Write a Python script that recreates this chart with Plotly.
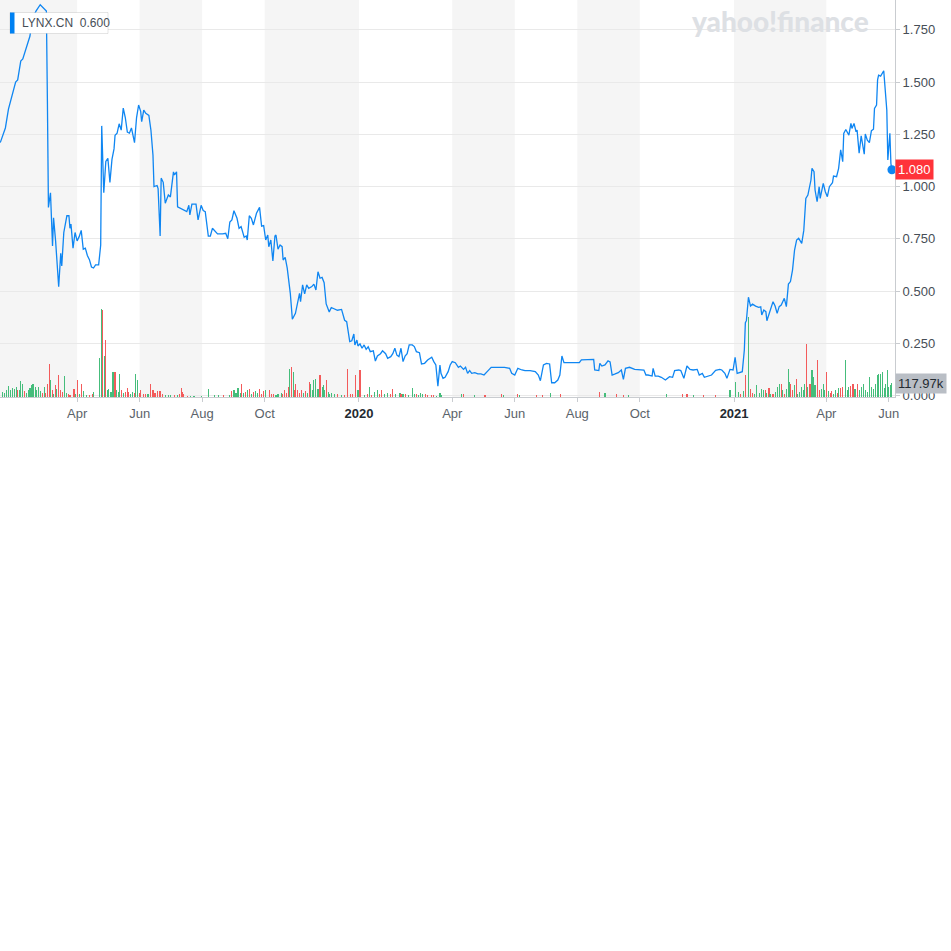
import plotly.graph_objects as go

# ---------------- data ----------------
price_dates = [
    "2019-01-16", "2019-01-19", "2019-01-21", "2019-01-24", "2019-01-28", "2019-01-31", "2019-02-02", "2019-02-05",
    "2019-02-07", "2019-02-11", "2019-02-14", "2019-02-16", "2019-02-20", "2019-02-24", "2019-02-28", "2019-03-02",
    "2019-03-03", "2019-03-04", "2019-03-06", "2019-03-08", "2019-03-09", "2019-03-11", "2019-03-14", "2019-03-16",
    "2019-03-17", "2019-03-19", "2019-03-22", "2019-03-24", "2019-03-25", "2019-03-26", "2019-03-28", "2019-03-30",
    "2019-04-01", "2019-04-03", "2019-04-05", "2019-04-07", "2019-04-09", "2019-04-11", "2019-04-13", "2019-04-15",
    "2019-04-17", "2019-04-19", "2019-04-22", "2019-04-24", "2019-04-25", "2019-04-27", "2019-04-29", "2019-05-01",
    "2019-05-03", "2019-05-05", "2019-05-07", "2019-05-08", "2019-05-10", "2019-05-12", "2019-05-14", "2019-05-16",
    "2019-05-18", "2019-05-20", "2019-05-22", "2019-05-24", "2019-05-27", "2019-05-29", "2019-05-31", "2019-06-02",
    "2019-06-03", "2019-06-05", "2019-06-07", "2019-06-10", "2019-06-12", "2019-06-14", "2019-06-15", "2019-06-18",
    "2019-06-19", "2019-06-21", "2019-06-22", "2019-06-24", "2019-06-26", "2019-06-29", "2019-07-01", "2019-07-04",
    "2019-07-05", "2019-07-07", "2019-07-08", "2019-07-11", "2019-07-14", "2019-07-17", "2019-07-19", "2019-07-20",
    "2019-07-22", "2019-07-26", "2019-07-28", "2019-07-31", "2019-08-02", "2019-08-04", "2019-08-07", "2019-08-09",
    "2019-08-11", "2019-08-13", "2019-08-16", "2019-08-21", "2019-08-24", "2019-08-26", "2019-08-28", "2019-08-30",
    "2019-09-01", "2019-09-04", "2019-09-06", "2019-09-08", "2019-09-11", "2019-09-13", "2019-09-14", "2019-09-16",
    "2019-09-18", "2019-09-20", "2019-09-23", "2019-09-26", "2019-09-28", "2019-09-30", "2019-10-02", "2019-10-04",
    "2019-10-05", "2019-10-07", "2019-10-09", "2019-10-11", "2019-10-12", "2019-10-14", "2019-10-16", "2019-10-18",
    "2019-10-19", "2019-10-21", "2019-10-23", "2019-10-26", "2019-10-28", "2019-10-31", "2019-11-01", "2019-11-04",
    "2019-11-05", "2019-11-07", "2019-11-09", "2019-11-11", "2019-11-13", "2019-11-16", "2019-11-18", "2019-11-20",
    "2019-11-22", "2019-11-24", "2019-11-26", "2019-11-28", "2019-11-30", "2019-12-03", "2019-12-05", "2019-12-08",
    "2019-12-11", "2019-12-15", "2019-12-18", "2019-12-20", "2019-12-23", "2019-12-25", "2019-12-27", "2019-12-28",
    "2019-12-30", "2019-12-31",
    "2020-01-02", "2020-01-04", "2020-01-06", "2020-01-08", "2020-01-10", "2020-01-12", "2020-01-15", "2020-01-17",
    "2020-01-19", "2020-01-22", "2020-01-24", "2020-01-27", "2020-01-29", "2020-02-01", "2020-02-03", "2020-02-05",
    "2020-02-07", "2020-02-09", "2020-02-11", "2020-02-13", "2020-02-15", "2020-02-17", "2020-02-19", "2020-02-22",
    "2020-02-24", "2020-02-26", "2020-02-29", "2020-03-02", "2020-03-05", "2020-03-08", "2020-03-10", "2020-03-12",
    "2020-03-14", "2020-03-16", "2020-03-18", "2020-03-20", "2020-03-21", "2020-03-23", "2020-03-25", "2020-03-28",
    "2020-03-30", "2020-04-01", "2020-04-04", "2020-04-07", "2020-04-09", "2020-04-12", "2020-04-14", "2020-04-16",
    "2020-04-18", "2020-04-20", "2020-04-23", "2020-04-26", "2020-04-29", "2020-05-02", "2020-05-06", "2020-05-09",
    "2020-05-16", "2020-05-22", "2020-05-27", "2020-05-29", "2020-06-01", "2020-06-04", "2020-06-08", "2020-06-11",
    "2020-06-16", "2020-06-21", "2020-06-24", "2020-06-26", "2020-06-29", "2020-07-02", "2020-07-05", "2020-07-07",
    "2020-07-10", "2020-07-13", "2020-07-15", "2020-07-17", "2020-07-19", "2020-07-23", "2020-07-30", "2020-08-03",
    "2020-08-05", "2020-08-12", "2020-08-17", "2020-08-18", "2020-08-22", "2020-08-23", "2020-08-25", "2020-08-28",
    "2020-08-31", "2020-09-02", "2020-09-04", "2020-09-07", "2020-09-10", "2020-09-13", "2020-09-15", "2020-09-17",
    "2020-09-21", "2020-09-26", "2020-10-01", "2020-10-05", "2020-10-07", "2020-10-09", "2020-10-13", "2020-10-14",
    "2020-10-16", "2020-10-19", "2020-10-22", "2020-10-26", "2020-10-30", "2020-11-02", "2020-11-04", "2020-11-08",
    "2020-11-10", "2020-11-13", "2020-11-16", "2020-11-19", "2020-11-22", "2020-11-26", "2020-11-28", "2020-12-01",
    "2020-12-03", "2020-12-06", "2020-12-10", "2020-12-14", "2020-12-18", "2020-12-20", "2020-12-23", "2020-12-25",
    "2020-12-28", "2020-12-31",
    "2021-01-02", "2021-01-04", "2021-01-06", "2021-01-09", "2021-01-11", "2021-01-12", "2021-01-13", "2021-01-15",
    "2021-01-17", "2021-01-19", "2021-01-22", "2021-01-25", "2021-01-27", "2021-01-28", "2021-01-30", "2021-02-01",
    "2021-02-02", "2021-02-04", "2021-02-08", "2021-02-10", "2021-02-12", "2021-02-14", "2021-02-16", "2021-02-19",
    "2021-02-21", "2021-02-23", "2021-02-25", "2021-02-27", "2021-03-01", "2021-03-03", "2021-03-05", "2021-03-08",
    "2021-03-10", "2021-03-12", "2021-03-14", "2021-03-17", "2021-03-18", "2021-03-20", "2021-03-21", "2021-03-23",
    "2021-03-25", "2021-03-26", "2021-03-29", "2021-03-31", "2021-04-02", "2021-04-04", "2021-04-07", "2021-04-08",
    "2021-04-11", "2021-04-13", "2021-04-15", "2021-04-17", "2021-04-18", "2021-04-20", "2021-04-23", "2021-04-25",
    "2021-04-26", "2021-04-28", "2021-04-30", "2021-05-01", "2021-05-03", "2021-05-05", "2021-05-08", "2021-05-09",
    "2021-05-11", "2021-05-13", "2021-05-15", "2021-05-17", "2021-05-18", "2021-05-20", "2021-05-21", "2021-05-22",
    "2021-05-24", "2021-05-27", "2021-05-28", "2021-05-30", "2021-05-31", "2021-06-01", "2021-06-02", "2021-06-03",
    "2021-06-04",
]
price_values = [
    1.21, 1.25, 1.28, 1.37, 1.44, 1.50, 1.51, 1.60,
    1.61, 1.68, 1.72, 1.80, 1.84, 1.87, 1.85, 1.84,
    1.41, 0.90, 0.97, 0.715, 0.85, 0.74, 0.52, 0.68,
    0.62, 0.78, 0.86, 0.86, 0.80, 0.82, 0.705, 0.78,
    0.74, 0.76, 0.79, 0.70, 0.705, 0.67, 0.65, 0.615,
    0.61, 0.625, 0.625, 0.72, 1.29, 0.97, 1.12, 1.135,
    1.02, 1.13, 1.18, 1.245, 1.255, 1.30, 1.27, 1.375,
    1.33, 1.26, 1.255, 1.28, 1.21, 1.33, 1.39, 1.36,
    1.31, 1.365, 1.35, 1.34, 1.27, 1.15, 1.00, 1.005,
    0.99, 0.763, 1.04, 1.02, 0.92, 0.96, 0.95, 1.07,
    1.055, 1.07, 0.903, 0.895, 0.887, 0.88, 0.91, 0.864,
    0.916, 0.916, 0.84, 0.91, 0.885, 0.88, 0.763, 0.763,
    0.80, 0.789, 0.773, 0.773, 0.776, 0.75, 0.83, 0.84,
    0.884, 0.848, 0.80, 0.808, 0.757, 0.763, 0.744, 0.86,
    0.848, 0.816, 0.872, 0.90, 0.81, 0.813, 0.744, 0.768,
    0.712, 0.744, 0.644, 0.763, 0.768, 0.70, 0.72, 0.712,
    0.648, 0.661, 0.609, 0.489, 0.365, 0.393, 0.417, 0.489,
    0.449, 0.529, 0.486, 0.529, 0.513, 0.521, 0.533, 0.505,
    0.592, 0.561, 0.565, 0.54, 0.438, 0.40, 0.421, 0.414,
    0.408, 0.412, 0.36, 0.353, 0.258, 0.262, 0.294, 0.242,
    0.265, 0.237,
    0.247, 0.226, 0.242, 0.221, 0.233, 0.21, 0.214, 0.165,
    0.189, 0.20, 0.214, 0.20, 0.178, 0.186, 0.20, 0.226,
    0.193, 0.186, 0.226, 0.162, 0.189, 0.20, 0.242, 0.242,
    0.234, 0.21, 0.205, 0.151, 0.154, 0.17, 0.178, 0.183,
    0.162, 0.146, 0.045, 0.146, 0.106, 0.082, 0.087, 0.114,
    0.146, 0.162, 0.157, 0.135, 0.141, 0.125, 0.135, 0.106,
    0.119, 0.106, 0.109, 0.103, 0.103, 0.098, 0.119, 0.135,
    0.135, 0.135, 0.130, 0.106, 0.098, 0.13, 0.122, 0.119,
    0.119, 0.114, 0.098, 0.071, 0.146, 0.154, 0.151, 0.061,
    0.061, 0.074, 0.098, 0.189, 0.157, 0.157, 0.157, 0.157,
    0.17, 0.173, 0.173, 0.122, 0.119, 0.154, 0.141, 0.146,
    0.166, 0.161, 0.098, 0.103, 0.109, 0.122, 0.077, 0.13,
    0.135, 0.125, 0.122, 0.122, 0.098, 0.098, 0.093, 0.13,
    0.093, 0.093, 0.087, 0.074, 0.09, 0.087, 0.119, 0.122,
    0.119, 0.082, 0.141, 0.125, 0.122, 0.125, 0.098, 0.106,
    0.087, 0.093, 0.098, 0.12, 0.125, 0.122, 0.106, 0.082,
    0.125, 0.122,
    0.183, 0.106, 0.109, 0.114, 0.218, 0.348, 0.358, 0.47,
    0.428, 0.437, 0.428, 0.422, 0.424, 0.385, 0.409, 0.401,
    0.358, 0.385, 0.449, 0.428, 0.393, 0.425, 0.433, 0.465,
    0.425, 0.533, 0.545, 0.60, 0.696, 0.744, 0.752, 0.728,
    0.79, 0.943, 0.959, 1.031, 1.087, 1.071, 0.983, 0.927,
    0.999, 0.943, 1.015, 0.975, 0.951, 0.999, 1.018, 1.05,
    1.047, 1.087, 1.175, 1.119, 1.254, 1.273, 1.246, 1.302,
    1.278, 1.302, 1.262, 1.27, 1.159, 1.242, 1.155, 1.251,
    1.222, 1.21, 1.267, 1.274, 1.374, 1.39, 1.51, 1.533,
    1.528, 1.554, 1.493, 1.366, 1.127, 1.175, 1.255, 1.11,
    1.08,
]

# volume in thousands of shares, with day direction (g = up, r = down)
vol_dates = [
    "2019-01-18", "2019-01-20", "2019-01-22", "2019-01-24", "2019-01-26", "2019-01-28", "2019-01-30", "2019-02-01",
    "2019-02-02", "2019-02-04", "2019-02-05", "2019-02-07", "2019-02-09", "2019-02-11", "2019-02-13", "2019-02-14",
    "2019-02-16", "2019-02-17", "2019-02-19", "2019-02-20", "2019-02-22", "2019-02-24", "2019-02-26", "2019-02-28",
    "2019-03-01", "2019-03-03", "2019-03-05", "2019-03-06", "2019-03-08", "2019-03-09", "2019-03-11", "2019-03-12",
    "2019-03-14", "2019-03-16", "2019-03-18", "2019-03-20", "2019-03-22", "2019-03-24", "2019-03-25", "2019-03-29",
    "2019-03-30", "2019-04-01", "2019-04-03", "2019-04-05", "2019-04-07", "2019-04-10", "2019-04-13", "2019-04-16",
    "2019-04-17", "2019-04-23", "2019-04-25", "2019-04-26", "2019-04-28", "2019-04-29", "2019-05-01", "2019-05-02",
    "2019-05-04", "2019-05-06", "2019-05-08", "2019-05-09", "2019-05-11", "2019-05-12", "2019-05-14", "2019-05-16",
    "2019-05-18", "2019-05-20", "2019-05-21", "2019-05-23", "2019-05-25", "2019-05-27", "2019-05-28", "2019-05-30",
    "2019-06-01", "2019-06-02", "2019-06-05", "2019-06-07", "2019-06-09", "2019-06-10", "2019-06-12", "2019-06-14",
    "2019-06-16", "2019-06-18", "2019-06-20", "2019-06-21", "2019-06-23", "2019-06-26", "2019-06-29", "2019-07-01",
    "2019-07-05", "2019-07-08", "2019-07-10", "2019-07-12", "2019-07-13", "2019-07-14", "2019-07-18", "2019-07-21",
    "2019-07-24", "2019-07-31", "2019-08-07", "2019-08-13", "2019-08-17", "2019-08-22", "2019-08-28", "2019-08-30",
    "2019-09-01", "2019-09-03", "2019-09-05", "2019-09-07", "2019-09-08", "2019-09-10", "2019-09-12", "2019-09-14",
    "2019-09-16", "2019-09-18", "2019-09-20", "2019-09-22", "2019-09-24", "2019-09-26", "2019-09-28", "2019-09-30",
    "2019-10-02", "2019-10-06", "2019-10-08", "2019-10-10", "2019-10-12", "2019-10-14", "2019-10-17", "2019-10-18",
    "2019-10-20", "2019-10-22", "2019-10-24", "2019-10-25", "2019-10-27", "2019-10-29", "2019-10-30", "2019-10-31",
    "2019-11-02", "2019-11-04", "2019-11-06", "2019-11-08", "2019-11-10", "2019-11-12", "2019-11-14", "2019-11-15",
    "2019-11-17", "2019-11-18", "2019-11-20", "2019-11-22", "2019-11-24", "2019-11-26", "2019-11-27", "2019-11-28",
    "2019-11-30", "2019-12-02", "2019-12-03", "2019-12-05", "2019-12-08", "2019-12-11", "2019-12-15", "2019-12-18",
    "2019-12-21", "2019-12-24", "2019-12-26", "2019-12-29", "2019-12-31",
    "2020-01-02", "2020-01-06", "2020-01-09", "2020-01-11", "2020-01-13", "2020-01-16", "2020-01-19", "2020-01-21",
    "2020-01-23", "2020-01-26", "2020-01-29", "2020-02-01", "2020-02-03", "2020-02-06", "2020-02-10", "2020-02-11",
    "2020-02-13", "2020-02-15", "2020-02-18", "2020-02-22", "2020-02-24", "2020-02-26", "2020-02-28", "2020-03-01",
    "2020-03-03", "2020-03-06", "2020-03-08", "2020-03-12", "2020-03-14", "2020-03-17", "2020-03-20", "2020-03-21",
    "2020-04-10", "2020-04-12", "2020-04-23", "2020-05-03", "2020-05-19", "2020-05-21", "2020-06-04", "2020-06-06",
    "2020-06-22", "2020-06-28", "2020-07-06", "2020-07-16", "2020-08-23", "2020-08-28", "2020-09-08", "2020-09-15",
    "2020-09-20", "2020-10-27", "2020-11-12", "2020-11-16", "2020-11-22", "2020-12-02", "2020-12-14", "2020-12-28",
    "2021-01-02", "2021-01-05", "2021-01-07", "2021-01-10", "2021-01-12", "2021-01-15", "2021-01-17", "2021-01-19",
    "2021-01-21", "2021-01-23", "2021-01-26", "2021-01-28", "2021-01-30", "2021-02-01", "2021-02-02", "2021-02-04",
    "2021-02-05", "2021-02-08", "2021-02-10", "2021-02-12", "2021-02-14", "2021-02-16", "2021-02-17", "2021-02-19",
    "2021-02-21", "2021-02-23", "2021-02-24", "2021-02-25", "2021-02-27", "2021-03-01", "2021-03-03", "2021-03-04",
    "2021-03-06", "2021-03-08", "2021-03-10", "2021-03-11", "2021-03-13", "2021-03-14", "2021-03-16", "2021-03-18",
    "2021-03-19", "2021-03-21", "2021-03-23", "2021-03-25", "2021-03-27", "2021-03-29", "2021-03-30", "2021-04-01",
    "2021-04-03", "2021-04-05", "2021-04-06", "2021-04-08", "2021-04-10", "2021-04-12", "2021-04-13", "2021-04-15",
    "2021-04-17", "2021-04-20", "2021-04-22", "2021-04-23", "2021-04-25", "2021-04-27", "2021-04-29", "2021-05-01",
    "2021-05-03", "2021-05-05", "2021-05-07", "2021-05-09", "2021-05-11", "2021-05-13", "2021-05-15", "2021-05-17",
    "2021-05-19", "2021-05-21", "2021-05-22", "2021-05-24", "2021-05-26", "2021-05-28", "2021-05-29", "2021-05-31",
    "2021-06-01", "2021-06-03", "2021-06-04",
]
vol_values = [
    42, 34, 56, 90, 62, 79, 70, 84,
    62, 56, 135, 107, 51, 34, 56, 79,
    98, 107, 84, 62, 84, 51, 34, 84,
    34, 107, 281, 140, 56, 28, 98, 70,
    183, 56, 42, 174, 34, 28, 14, 70,
    28, 140, 28, 112, 51, 14, 14, 22,
    42, 332, 745, 735, 343, 483, 56, 70,
    42, 211, 211, 56, 42, 197, 56, 34,
    42, 79, 42, 28, 42, 34, 191, 140,
    34, 62, 22, 22, 22, 28, 112, 56,
    34, 51, 51, 51, 22, 14, 14, 14,
    14, 14, 28, 79, 42, 22, 8, 8,
    8, 8, 70, 14, 14, 14, 14, 51,
    62, 34, 79, 34, 107, 34, 42, 56,
    70, 28, 42, 51, 34, 70, 28, 51,
    56, 62, 28, 28, 14, 22, 34, 28,
    62, 34, 84, 239, 253, 211, 62, 112,
    56, 34, 62, 34, 51, 34, 126, 112,
    56, 140, 155, 70, 183, 84, 98, 56,
    146, 42, 28, 34, 28, 22, 14, 14,
    239, 22, 28, 183, 56,
    225, 14, 22, 84, 14, 42, 56, 22,
    62, 22, 34, 22, 70, 22, 34, 28,
    22, 22, 14, 79, 22, 22, 14, 34,
    22, 28, 14, 14, 14, 8, 34, 14,
    22, 28, 14, 14, 28, 14, 28, 14,
    14, 14, 34, 28, 42, 34, 28, 14,
    14, 28, 22, 22, 14, 14, 14, 56,
    126, 42, 28, 51, 183, 674, 70, 34,
    28, 98, 34, 70, 56, 56, 34, 79,
    28, 28, 42, 84, 112, 112, 56, 22,
    70, 239, 126, 112, 56, 98, 155, 28,
    42, 84, 56, 112, 450, 84, 112, 225,
    169, 98, 309, 56, 70, 107, 62, 211,
    51, 34, 51, 28, 62, 34, 79, 79,
    84, 315, 56, 84, 90, 107, 70, 107,
    62, 84, 112, 56, 42, 169, 84, 70,
    112, 183, 191, 197, 211, 79, 112, 230,
    84, 98, 117.97,
]
vol_dirs = list(
    "ggggggggrgggrgggggggggrgrrrgrgrgrrrggrrrgrgrggrrgggrgrggggrgggrgrrrggrgg"
    "rrrrggrrrrrrrgggrgrrrrrggggggrgrggggrgrgrgrggrrrgrrrgggrrrrgrgrrrrrgrg"
    "rgggggrgggrggggrgrrrrrgrgrgrggrrggrrggrgrgggrgggrrrrggggrgrrgrgrrgrrgrr"
    "ggrrgrrgggrgrgrrgggggrgrgrgggrgrgggrrgrgggggrgrgggrrgggrgrrggrgrrgggrrgrg"
)

# axis tick dates and their labels
tick_dates = ["2019-04-01", "2019-06-01", "2019-08-01", "2019-10-01", "2020-01-01", "2020-04-01",
              "2020-06-01", "2020-08-01", "2020-10-01", "2021-01-01", "2021-04-01", "2021-06-01"]
tick_labels = ["Apr", "Jun", "Aug", "Oct", "2020", "Apr", "Jun", "Aug", "Oct", "2021", "Apr", "Jun"]
price_ticks = [0.0, 0.25, 0.5, 0.75, 1.0, 1.25, 1.5, 1.75]

symbol = "LYNX.CN"
symbol_value = "0.600"
last_price_label = "1.080"
last_volume_label = "117.97k"

# ---------------- styling ----------------
W, H = 951, 951
PL, PR, PT, PB = 0, 56, 0, 554          # margins -> plot area 895 x 397
PW, PH = W - PL - PR, H - PT - PB
BLUE = "#0f86f2"
GREEN = "#45bd7b"
RED = "#f35b5b"
BAND = "#f5f5f5"
GRID = "#e9e9e9"
AXIS = "#c9ccd0"
FONT = "Liberation Sans, Arial, sans-serif"
x_range = ["2019-01-15 18:00", "2021-06-07 00:00"]

vol_dirs = vol_dirs[:len(vol_values)]
while len(vol_dirs) < len(vol_values):
    vol_dirs.append("g")
vol_colors = [GREEN if d == "g" else RED for d in vol_dirs]

fig = go.Figure()

# volume bars on hidden base axis
fig.add_trace(go.Bar(
    x=vol_dates, y=vol_values, yaxis="y",
    marker=dict(color=vol_colors, line=dict(width=0)),
    width=86400000 * 1.1, hoverinfo="skip", showlegend=False,
))
# price line on the visible right axis (drawn above volume)
fig.add_trace(go.Scatter(
    x=price_dates, y=price_values, yaxis="y2", mode="lines",
    line=dict(color=BLUE, width=1.3), hoverinfo="skip", showlegend=False,
))
fig.add_trace(go.Scatter(
    x=[price_dates[-1]], y=[price_values[-1]], yaxis="y2", mode="markers",
    marker=dict(color=BLUE, size=9), hoverinfo="skip", showlegend=False,
))

# alternating shaded bands between ticks (first segment shaded, then alternate)
shapes = []
band_edges = [x_range[0]] + tick_dates
for i in range(len(band_edges) - 1):
    if i % 2 == 0:
        shapes.append(dict(type="rect", xref="x", yref="paper", x0=band_edges[i], x1=band_edges[i + 1],
                           y0=0, y1=1, fillcolor=BAND, line=dict(width=0), layer="below"))


def px_x(p):
    return p / PW


def px_y(p):
    return 1 - p / PH


# symbol label box
shapes.append(dict(type="rect", xref="paper", yref="paper", x0=px_x(10), x1=px_x(108), y0=px_y(33.5), y1=px_y(12.5),
                   fillcolor="white", line=dict(color="rgba(0,0,0,0.10)", width=1), layer="above"))
shapes.append(dict(type="rect", xref="paper", yref="paper", x0=px_x(10), x1=px_x(14.5), y0=px_y(33.5), y1=px_y(12.5),
                   fillcolor="#0081f2", line=dict(width=0), layer="above"))

tick_text = []
for lab in tick_labels:
    if lab.isdigit():
        tick_text.append("<b><span style='color:#232a31'>%s</span></b>" % lab)
    else:
        tick_text.append(lab)

annotations = [
    dict(xref="paper", yref="paper", x=px_x(780), y=px_y(21), text="yahoo!finance",
         showarrow=False, font=dict(family="Lato, Liberation Sans, sans-serif", size=28, color="#dde0e4", weight=900),
         xanchor="center", yanchor="middle"),
    dict(xref="paper", yref="paper", x=px_x(20), y=px_y(23), text="%s&nbsp;&nbsp;%s" % (symbol, symbol_value),
         showarrow=False, font=dict(family=FONT, size=12, color="#464e56"), xanchor="left", yanchor="middle"),
    dict(xref="paper", yref="y2", x=1, y=price_values[-1], text=last_price_label, showarrow=False,
         xanchor="left", yanchor="middle", bgcolor="#ff333a", borderpad=2, xshift=0,
         font=dict(family=FONT, size=13, color="white")),
    dict(xref="paper", yref="y", x=1, y=vol_values[-1], text=last_volume_label, showarrow=False,
         xanchor="left", yanchor="middle", bgcolor="#b9bec5", borderpad=2,
         font=dict(family=FONT, size=13, color="#232a31")),
]

price_min = -1.5 / 209.0
price_max = 395.5 / 209.0
vol_max = PH * 8.43

fig.update_layout(
    width=W, height=H,
    margin=dict(l=PL, r=PR, t=PT, b=PB, pad=0),
    paper_bgcolor="white", plot_bgcolor="white",
    showlegend=False, hovermode=False, bargap=0,
    font=dict(family=FONT, size=13, color="#464e56"),
    xaxis=dict(type="date", range=x_range, tickvals=tick_dates, ticktext=tick_text,
               showgrid=False, zeroline=False, showline=True, linecolor=AXIS, linewidth=1,
               ticks="outside", ticklen=4, tickcolor=AXIS,
               tickfont=dict(family=FONT, size=13, color="#5b636a"), fixedrange=True),
    yaxis=dict(range=[0, vol_max], visible=False, fixedrange=True),
    yaxis2=dict(overlaying="y", side="right", range=[price_min, price_max], tickvals=price_ticks,
                tickformat=".3f", showgrid=True, gridcolor=GRID, gridwidth=1, zeroline=False,
                showline=True, linecolor=AXIS, linewidth=1, ticks="outside", ticklen=4, tickcolor=AXIS,
                tickfont=dict(family=FONT, size=13, color="#464e56"), fixedrange=True),
    shapes=shapes,
    annotations=annotations,
)

fig.write_html("out.html", config={"displayModeBar": False, "staticPlot": True})

# remove the browser's default page margin so the figure sits at the window's top-left corner
with open("out.html", "r", encoding="utf-8") as f:
    html = f.read()
html = html.replace("<body>", "<body style=\"margin:0;padding:0;overflow:hidden\">", 1)
with open("out.html", "w", encoding="utf-8") as f:
    f.write(html)
